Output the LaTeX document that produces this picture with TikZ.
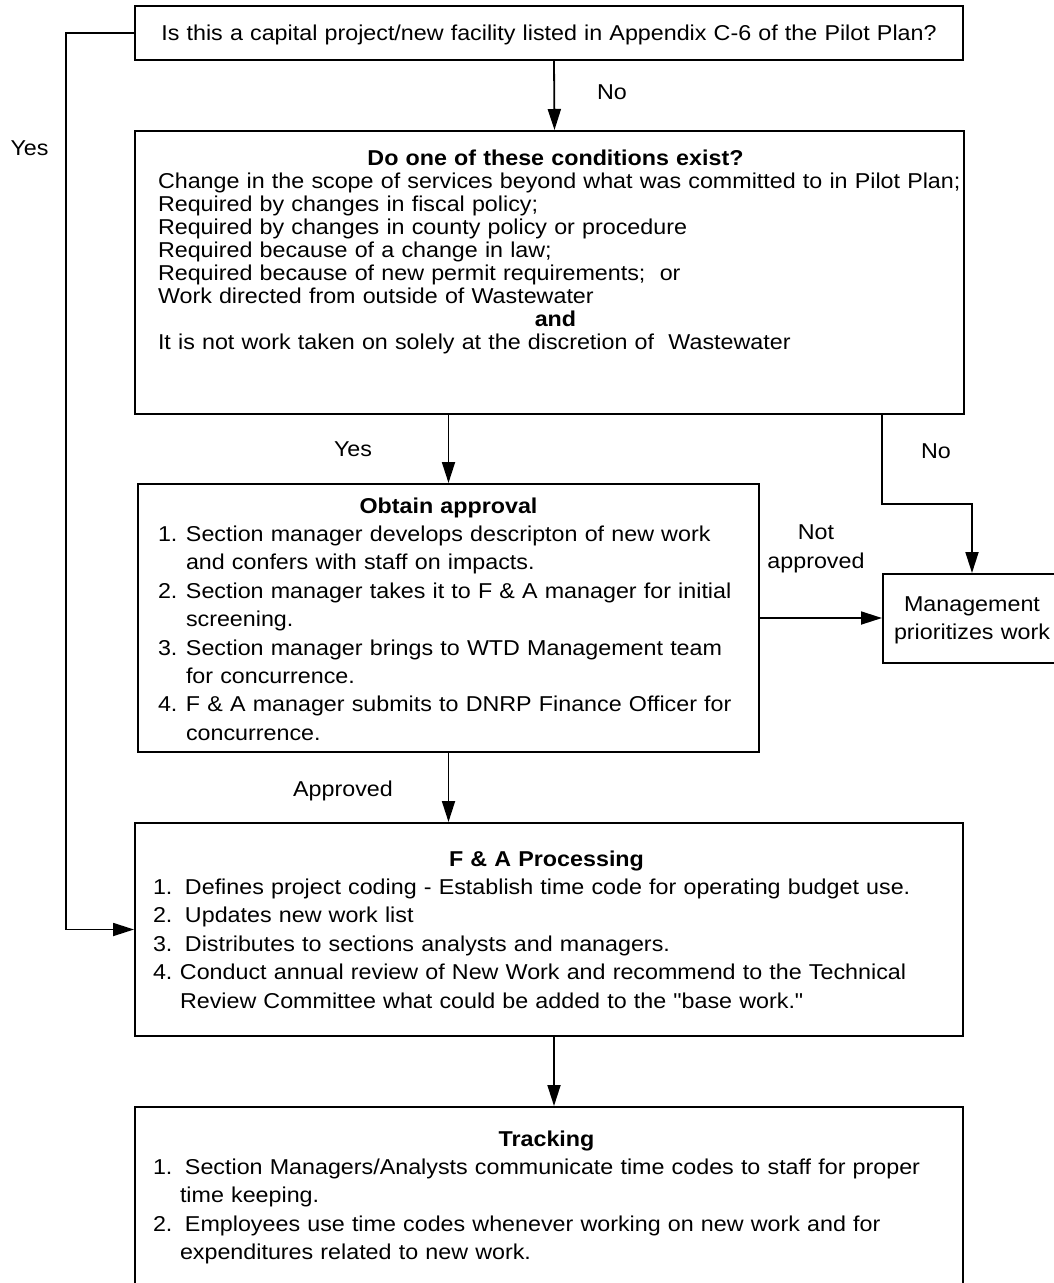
\documentclass[tikz,border=0pt]{standalone}
\usepackage{fontspec}
\setmainfont{Liberation Sans}[FakeStretch=1.083]
\newfontfamily\quotefont{Liberation Sans}[FakeStretch=1.083]
\usepackage{tikz}
\usetikzlibrary{arrows.meta,positioning}
\newcommand{\boxtitle}[2][0pt]{\makebox[\linewidth][c]{\hspace*{#1}\bfseries #2}}
\newcommand{\stepno}[3][28pt]{\makebox[#1][l]{#2}\mbox{#3}}
\newcommand{\dq}{{\quotefont"}}

\begin{document}
\begin{tikzpicture}[x=1pt, y=-1pt, every node/.style={font=\fontsize{21.5}{23}\selectfont}, block/.style={draw, line width=2pt, anchor=north west, inner ysep=0pt, align=left}, wide/.style={font=\fontsize{21.5}{28.4}\selectfont}, lbl/.style={anchor=base, inner sep=0pt}, flow/.style={line width=1.8pt, -{Triangle[length=21pt, width=13pt]}}]
\useasboundingbox (0,0) rectangle (1054,1283);
\node[block, align=center, inner xsep=10pt, text width=808pt, text height=34pt, text depth=20pt] (capq) at (134,5) {Is this a capital project/new facility listed in Appendix C-6 of the Pilot Plan?};
\node[block, inner xsep=23pt, text width=783pt, text height=34pt, text depth=249pt] (cond) at (134,130) {\boxtitle[12pt]{Do one of these conditions exist?}\\
\mbox{Change in the scope of services beyond what was committed to in Pilot Plan;}\\
Required by changes in fiscal policy;\\
Required by changes in county policy or procedure\\
Required because of a change in law;\\
Required because of new permit requirements;\ \ or\\
Work directed from outside of Wastewater\\
\boxtitle[12pt]{and}\\
It is not work taken on solely at the discretion of\ \ Wastewater};
\node[block, wide, inner xsep=20pt, text width=581pt, text height=29pt, text depth=239pt] (appr) at (137,483) {\boxtitle{Obtain approval}\\
\stepno{1.}{Section manager develops descripton of new work}\\
\hspace*{28pt}and confers with staff on impacts.\\
\stepno{2.}{Section manager takes it to F \& A manager for initial}\\
\hspace*{28pt}screening.\\
\stepno{3.}{Section manager brings to WTD Management team}\\
\hspace*{28pt}for concurrence.\\
\stepno{4.}{F \& A manager submits to DNRP Finance Officer for}\\
\hspace*{28pt}concurrence.};
\node[block, wide, align=center, inner xsep=5pt, text width=168pt, text height=37pt, text depth=52pt] (mgmt) at (882,573) {Management\\prioritizes work};
\node[block, wide, inner xsep=18pt, text width=792pt, text height=43pt, text depth=170pt] (fa) at (134,822) {\boxtitle[-5pt]{F \& A Processing}\\
\stepno[32pt]{1.}{Defines project coding - Establish time code for operating budget use.}\\
\stepno[32pt]{2.}{Updates new work list}\\
\stepno[32pt]{3.}{Distributes to sections analysts and managers.}\\
\stepno[27pt]{4.}{Conduct annual review of New Work and recommend to the Technical}\\
\hspace*{27pt}Review Committee what could be added to the \dq base work.\dq};
\node[block, wide, inner xsep=18pt, text width=792pt, text height=39pt, text depth=151pt] (trk) at (134,1106) {\boxtitle[-5pt]{Tracking}\\
\stepno[32pt]{1.}{Section Managers/Analysts communicate time codes to staff for proper}\\
\hspace*{27pt}time keeping.\\
\stepno[32pt]{2.}{Employees use time codes whenever working on new work and for}\\
\hspace*{27pt}expenditures related to new work.};
% branch labels
\node[lbl] (yescap) at (29.5,155) {Yes};
\node[lbl] (nocap) at (612,99) {No};
\node[lbl] (yescond) at (353,456) {Yes};
\node[lbl] (nocond) at (936,458) {No};
\node[lbl, wide, align=center] (notappr) at (816,568) {Not\\approved};
\node[lbl] (appryes) at (343,796) {Approved};
% connectors
\draw[flow] (capq.west) -- ++(-68,0) |- (fa.west);
\draw[flow] ([xshift=5pt]capq.south) -- ([xshift=5pt]cond.north);
\draw[flow] (appr.north |- cond.south) -- (appr.north);
\draw[flow] (cond.south -| mgmt.west) -- ++(0,89) -| (mgmt.north);
\draw[flow] (appr.east) -- (appr.east -| mgmt.west);
\draw[flow] (appr.south) -- (appr.south |- fa.north);
\draw[flow] ([xshift=5pt]fa.south) -- ([xshift=5pt]trk.north);
\end{tikzpicture}
\end{document}
